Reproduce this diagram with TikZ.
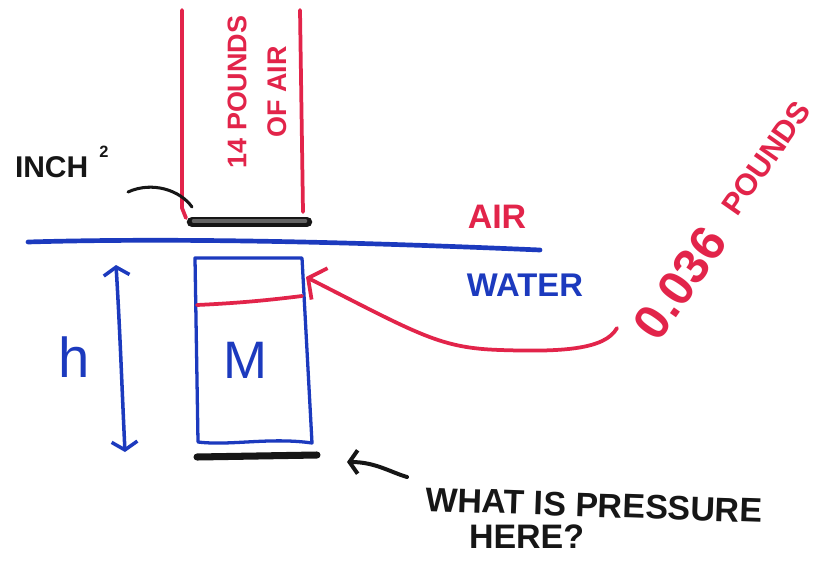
\documentclass[tikz,border=0pt]{standalone}
\usepackage{fontspec}
\setmainfont{Liberation Sans}
\usetikzlibrary{arrows.meta}
\definecolor{mred}{RGB}{226,36,74}
\definecolor{mblue}{RGB}{28,58,190}
\definecolor{mink}{RGB}{22,22,22}
\definecolor{mgray}{RGB}{100,100,100}
\begin{document}
\begin{tikzpicture}[x=0.03cm,y=-0.03cm,
  pen/.style={line width=3.2pt,line cap=round,line join=round},
  lbl/.style={inner sep=0pt,outer sep=0pt},
  redbarb/.style={-{Straight Barb[length=11pt,width=30pt]}},
  blkbarb/.style={-{Straight Barb[length=7pt,width=20pt]}},
  bluebarbs/.style={{Straight Barb[length=7pt,width=22pt]}-{Straight Barb[length=7pt,width=22pt]}}]
\useasboundingbox[fill=white] (0,0) rectangle (818,562);

% --- labels
\node[lbl,text=mink,anchor=base west,font=\bfseries\fontsize{25.6}{30}\selectfont] (inch) at (15,177) {INCH};
\node[lbl,text=mink,font=\bfseries\fontsize{14}{16}\selectfont] (sq) at (104,152) {2};
\node[lbl,text=mred,rotate=90,align=center,font=\bfseries\fontsize{23}{34}\selectfont] (col) at (257,92) {14 POUNDS\\OF AIR};
\node[lbl,text=mred,font=\bfseries\fontsize{29}{32}\selectfont] (air) at (497,217) {AIR};
\node[lbl,text=mblue,font=\bfseries\fontsize{28}{32}\selectfont] (water) at (525,285) {WATER};
\node[lbl,text=mblue,font=\fontsize{45}{50}\selectfont] (m) at (245,360) {M};
\node[lbl,text=mblue,font=\fontsize{48}{52}\selectfont] (h) at (74,357) {h};
\node[lbl,text=mred,rotate=55,font=\bfseries\fontsize{42}{46}\selectfont] (num) at (680,283) {0.036};
\node[lbl,text=mred,rotate=55,font=\bfseries\fontsize{26}{30}\selectfont] (pounds) at (766,158) {POUNDS};
\node[lbl,text=mink,anchor=base west,rotate=-2,font=\bfseries\fontsize{29}{32}\selectfont] (what) at (425,511) {WHAT IS PRESSURE};
\node[lbl,text=mink,anchor=base west,font=\bfseries\fontsize{29}{32}\selectfont] (here) at (469,548) {HERE?};

% --- column of air
\draw[pen,mred] (182,10) -- (182,208) -- (186,218);
\draw[pen,mred] (300,10) -- (303,212);

% --- plate (one square inch)
\draw[line width=9pt,mink,line cap=round] (192,222) -- (307,222);
\draw[line width=4pt,mgray,line cap=round] (194,221) -- (305,221);

% --- connector INCH^2 -> plate
\coordinate (c1) at (128,192);
\coordinate (c2) at (192,207);
\draw[pen,mink,line width=2.6pt] (c1) .. controls (152,181) and (180,190) .. (c2);

% --- water surface
\draw[pen,mblue,line width=4pt] (28,242) .. controls (200,237) and (400,244) .. (540,250);

% --- column of water M
\draw[pen,mblue,line width=2.8pt] (195,258) -- (302,258) -- (312,443) .. controls (270,437) and (230,446) .. (198,442) -- cycle;
\draw[pen,mred] (197,305) .. controls (240,303) and (270,300) .. (302,296);

% --- bottom plate
\draw[line width=6pt,mink,line cap=round] (197,457) -- (317,455);

% --- h arrow
\coordinate (htop) at (116,265);
\coordinate (hbot) at (125,452);
\draw[pen,mblue,line width=3pt,bluebarbs] (htop) .. controls (120,330) and (122,390) .. (hbot);

% --- red arrow
\coordinate (rs) at (617,328);
\coordinate (rt) at (306,277);
\draw[pen,mred,redbarb] (rs) .. controls (605,350) and (560,352) .. (500,350) .. controls (440,348) and (420,335) .. (rt);

% --- black arrow
\coordinate (bs) at (407,477);
\coordinate (bt) at (347,462);
\draw[pen,mink,line width=3.4pt,blkbarb] (bs) .. controls (390,472) and (375,462) .. (bt);
\end{tikzpicture}
\end{document}
